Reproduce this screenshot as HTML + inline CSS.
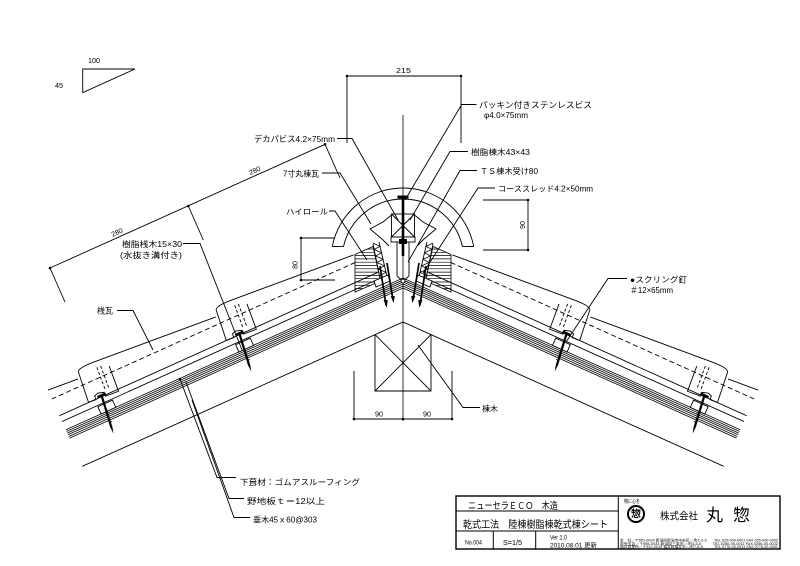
<!DOCTYPE html>
<html><head><meta charset="utf-8"><style>
html,body{margin:0;padding:0;background:#fff;}
svg{display:block;}
text{font-family:"Liberation Sans","Noto Sans CJK JP",sans-serif;fill:#000;}
</style></head><body>
<svg width="800" height="566" viewBox="0 0 800 566" xmlns="http://www.w3.org/2000/svg">
<defs>
 <clipPath id="clipL" clipPathUnits="userSpaceOnUse"><polygon points="403,0 403,566 123,557 -20.5,238 -20.5,0"/></clipPath>
 <clipPath id="hc" clipPathUnits="userSpaceOnUse"><polygon points="355,254.5 373,246.5 380.5,281 355,292"/></clipPath>
 <g id="course" fill="none" stroke="#000" stroke-width="0.9">
   <path d="M0,1 Q1,-3 18,-3 L148,-3"/>
   <path d="M0,1 L-1,33 L7,33 L7,29 L11,27.5 L17,29 L17,33 L31,33 L31,6"/>
   <path d="M19,3 V26 M23,3 V27" stroke-dasharray="3,2"/>
 </g>
 <g id="fix" stroke="#000">
   <rect x="-313" y="-48" width="16" height="8" fill="#fff" stroke-width="0.9"/>
   <line x1="-309.5" y1="-57" x2="-300.5" y2="-57" stroke-width="2"/>
   <line x1="-305" y1="-57" x2="-309" y2="-25" stroke-width="2.2"/>
   <polygon points="-310.3,-25 -307.7,-25 -309.8,-17" fill="#000" stroke="none"/>
   <path d="M-308,-36 l3,-1 M-308.5,-32 l3,-1 M-309,-28 l3,-1" stroke-width="0.7" fill="none"/>
 </g>
 <g id="half">
  <g clip-path="url(#clipL)" fill="none" stroke="#000" stroke-width="0.9">
   <g transform="translate(403,322) rotate(-24.23)">
     <line x1="-400" y1="0" x2="30" y2="0"/>
     <g stroke-width="0.8">
       <line x1="-400" y1="-31" x2="30" y2="-31"/>
       <line x1="-400" y1="-32.8" x2="30" y2="-32.8"/>
       <line x1="-400" y1="-34.7" x2="30" y2="-34.7"/>
       <line x1="-400" y1="-36.5" x2="30" y2="-36.5"/>
       <line x1="-400" y1="-38.3" x2="30" y2="-38.3"/>
       <line x1="-400" y1="-40.1" x2="30" y2="-40.1"/>
     </g>
     <line x1="-400" y1="-49.2" x2="-3" y2="-49.2"/>
     <line x1="-400" y1="-55.6" x2="-3" y2="-55.6"/>
     <line x1="-400" y1="-73.9" x2="-19" y2="-73.9" stroke-dasharray="5,3"/>
     <use href="#course" transform="translate(-467.6,-88.6) rotate(3.93)"/>
     <use href="#course" transform="translate(-316.5,-88.6) rotate(3.93)"/>
     <use href="#course" transform="translate(-165.4,-88.6) rotate(3.93)"/>
     <use href="#fix"/>
     <use href="#fix" transform="translate(151.1,0)"/>
   </g>
   <!-- ridge tile half -->
   <path d="M332.3,246.5 A72,72 0 0 1 403,188"/>
   <path d="M343.5,246.6 A61,61 0 0 1 403,199"/>
   <path d="M332.3,246.5 L343.5,246.6"/>
   <polyline points="391.5,215 383,222 370,229 382,239 389,246"/>
   <!-- hatched high-roll -->
   <polygon points="355,254.5 373,246.5 380.5,281 355,292" stroke-width="0.8"/>
   <g clip-path="url(#hc)" stroke-width="0.7">
     <path d="M350,249H390M350,252.3H390M350,255.6H390M350,258.9H390M350,262.2H390M350,265.5H390M350,268.8H390M350,272.1H390M350,275.4H390M350,278.7H390M350,282H390M350,285.3H390M350,288.6H390"/>
   </g>
   <path d="M373,244 L381,283 M379,242 L388,281" stroke-width="0.9"/>
   <polyline points="372.8,243 380,246.3 374.1,249.5 381.5,252.8 375.5,256 383,259.3 376.8,262.5 384.5,265.8 378.1,269 386,272.3 379.5,275.5 387.5,278.8 380.8,282" stroke-width="0.8"/>
   <!-- ridge screws -->
   <polygon points="374,281 388,275 390,281 376,287" fill="#fff"/>
   <line x1="380" y1="266" x2="386" y2="305" stroke-width="1.7"/>
   <line x1="387" y1="263" x2="393" y2="300" stroke-width="1.7"/>
   <path d="M384,300 l2.5,7 l1,-7 M391,296 l2.5,6 l1,-6" fill="#000" stroke-width="0.6"/>
  </g>
 </g>
</defs>

<rect width="800" height="566" fill="#fff"/>
<use href="#half"/>
<g transform="matrix(-1,0,0,1,806,0)"><use href="#half"/></g>

<g fill="none" stroke="#000" stroke-width="0.9">
  <!-- ridge beam 棟木 -->
  <path d="M375,334.6 V391 H431 V334.6"/>
  <path d="M375,334.6 L431,391 M431,334.6 L375,391"/>
  <!-- center line -->
  <line x1="403" y1="115" x2="403" y2="421" stroke-width="0.8"/>
  <!-- beam -->
  <rect x="391.5" y="214" width="23" height="23" fill="#fff"/>
  <path d="M391.5,214 L414.5,237 M414.5,214 L391.5,237"/>
  <!-- TS bracket -->
  <rect x="391" y="237" width="24" height="5" fill="#fff"/>
  <path d="M397,242 V276 M409,242 V276 M397,276 L403,281 L409,276"/>
  <!-- screw -->
  <line x1="403" y1="198" x2="403" y2="256" stroke-width="2.6"/>
  <rect x="397.5" y="195.5" width="11" height="3" fill="#000" stroke="none"/>
  <rect x="399" y="239" width="8" height="5" fill="#000" stroke="none"/>
  <circle cx="403" cy="281" r="2" fill="#fff"/>

  <!-- slope triangle -->
  <polygon points="82.7,69 135,69 82.7,92.7"/>

  <!-- 215 dim -->
  <path d="M347,76 H461 M347,76 V143 M461,76 V143"/>
  <!-- 80 dim -->
  <path d="M301,238 V280 M301,238 H335 M301,280 H335"/>
  <!-- 90 right dim -->
  <path d="M528,200 V250 M483,200 H528 M483,250 H528"/>
  <!-- bottom 90/90 dim -->
  <path d="M354,419 H452 M354,371 V419 M452,371 V419"/>
  <!-- 280 dims -->
  <path d="M50,268 L325,144.3 M50,268 L65,302 M188.3,206 L203.3,240 M325,144.3 L340,178"/>

  <!-- leaders -->
  <path d="M337,138.5 H352 L398,220"/>
  <path d="M322,173 H340 L371,224"/>
  <path d="M329,211 H335 L367,260"/>
  <path d="M183,243.5 H200 L242,350"/>
  <path d="M117,310.5 H133 L153,350"/>
  <path d="M180,379 L217,477.5 H236"/>
  <path d="M186,382 L229,498.5 H244"/>
  <path d="M192,400 L234,517.5 H250"/>
  <path d="M418,345 L463,407.5 H480"/>
  <path d="M405,200 L461.7,104.5 H476.5"/>
  <path d="M410,220 L450,151.5 H468"/>
  <path d="M408,262 L460,170.5 H477"/>
  <path d="M423,273 L478,188 H495"/>
  <path d="M566,342 L608,278.5 H627"/>
</g>
<g fill="#000">
  <circle cx="347" cy="76" r="1.3"/><circle cx="461" cy="76" r="1.3"/>
  <circle cx="301" cy="238" r="1.3"/><circle cx="301" cy="280" r="1.3"/>
  <circle cx="528" cy="200" r="1.3"/><circle cx="528" cy="250" r="1.3"/>
  <circle cx="354" cy="419" r="1.3"/><circle cx="403" cy="419" r="1.3"/><circle cx="452" cy="419" r="1.3"/>
  <circle cx="50" cy="268" r="1.3"/><circle cx="188.3" cy="206" r="1.3"/><circle cx="325" cy="144.3" r="1.3"/>
  <circle cx="180" cy="379" r="1.2"/>
</g>

<!-- labels -->
<g font-size="8">
  <text x="88" y="63" font-size="7" textLength="12" lengthAdjust="spacingAndGlyphs">100</text>
  <text x="55" y="88" font-size="7" textLength="8" lengthAdjust="spacingAndGlyphs">45</text>
  <text x="396" y="73" font-size="7.5" textLength="15" lengthAdjust="spacingAndGlyphs">215</text>
  <text x="254" y="142" font-size="8.5" textLength="81" lengthAdjust="spacingAndGlyphs">デカパビス4.2×75mm</text>
  <text x="283" y="176.5" textLength="36" lengthAdjust="spacingAndGlyphs">7寸丸棟瓦</text>
  <text x="286" y="214.5" textLength="42" lengthAdjust="spacingAndGlyphs">ハイロール</text>
  <text x="122" y="247" textLength="60" lengthAdjust="spacingAndGlyphs">樹脂桟木15×30</text>
  <text x="120" y="258" textLength="62" lengthAdjust="spacingAndGlyphs">(水抜き溝付き)</text>
  <text x="97" y="313.5" textLength="16" lengthAdjust="spacingAndGlyphs">桟瓦</text>
  <text x="240" y="485" textLength="120" lengthAdjust="spacingAndGlyphs">下葺材：ゴムアスルーフィング</text>
  <text x="247" y="504" textLength="78" lengthAdjust="spacingAndGlyphs">野地板ｔ＝12以上</text>
  <text x="253" y="522.5" textLength="64" lengthAdjust="spacingAndGlyphs">垂木45ｘ60@303</text>
  <text x="482" y="411.5" textLength="16" lengthAdjust="spacingAndGlyphs">棟木</text>
  <text x="479" y="108" font-size="8.5" textLength="113" lengthAdjust="spacingAndGlyphs">パッキン付きステンレスビス</text>
  <text x="484" y="118" textLength="44" lengthAdjust="spacingAndGlyphs">φ4.0×75mm</text>
  <text x="471" y="155" textLength="59" lengthAdjust="spacingAndGlyphs">樹脂棟木43×43</text>
  <text x="480" y="174" textLength="58" lengthAdjust="spacingAndGlyphs">ＴＳ棟木受け80</text>
  <text x="498" y="191.5" textLength="95" lengthAdjust="spacingAndGlyphs">コーススレッド4.2×50mm</text>
  <text x="630" y="282.5" textLength="57" lengthAdjust="spacingAndGlyphs">●スクリング釘</text>
  <text x="630" y="293" textLength="43" lengthAdjust="spacingAndGlyphs">＃12×65mm</text>
  <text x="375" y="416.5" font-size="7" textLength="8" lengthAdjust="spacingAndGlyphs">90</text>
  <text x="423" y="416.5" font-size="7" textLength="8" lengthAdjust="spacingAndGlyphs">90</text>
  <text transform="translate(297.5,265) rotate(-90)" text-anchor="middle" font-size="7">80</text>
  <text transform="translate(525,225) rotate(-90)" text-anchor="middle" font-size="7">90</text>
  <text transform="translate(118,234.5) rotate(-24.23)" text-anchor="middle" font-size="7">280</text>
  <text transform="translate(255.7,172.7) rotate(-24.23)" text-anchor="middle" font-size="7">280</text>
</g>

<!-- title block -->
<g fill="none" stroke="#000" stroke-width="1">
  <rect x="456" y="496" width="324" height="53" stroke-width="1.4"/>
  <line x1="618.3" y1="496" x2="618.3" y2="549"/>
  <line x1="456" y1="511" x2="618.3" y2="511"/>
  <line x1="456" y1="531" x2="618.3" y2="531"/>
  <line x1="493.3" y1="531" x2="493.3" y2="549"/>
  <line x1="535.7" y1="531" x2="535.7" y2="549"/>
  <circle cx="636" cy="514" r="8" stroke-width="2"/>
</g>
<g>
  <text x="468" y="509" font-size="9.5" textLength="90" lengthAdjust="spacingAndGlyphs">ニューセラＥＣＯ　木造</text>
  <text x="463" y="528" font-size="10" textLength="145" lengthAdjust="spacingAndGlyphs">乾式工法　陸棟樹脂棟乾式棟シート</text>
  <text x="465" y="544.5" font-size="6" textLength="17" lengthAdjust="spacingAndGlyphs">No.004</text>
  <text x="503" y="545" font-size="7" textLength="19" lengthAdjust="spacingAndGlyphs">S=1/5</text>
  <text x="550" y="539.5" font-size="6" textLength="17" lengthAdjust="spacingAndGlyphs">Ver 1.0</text>
  <text x="550" y="547.5" font-size="6" textLength="47" lengthAdjust="spacingAndGlyphs">2010.08.01 更新</text>
  <text x="624" y="503" font-size="5" textLength="16" lengthAdjust="spacingAndGlyphs">物に心を</text>
  <text x="636" y="517.5" font-size="10" font-weight="bold" text-anchor="middle">惣</text>
  <text x="660" y="519.5" font-size="10" textLength="38" lengthAdjust="spacingAndGlyphs">株式会社</text>
  <text x="706" y="521" font-size="17">丸</text>
  <text x="733" y="521" font-size="17">惣</text>
  <text x="620" y="541.5" font-size="3.2" textLength="158" lengthAdjust="spacingAndGlyphs">本　社／〒951-0024 新潟県新潟市中央区○○町1-2-3　　TEL.025-000-0001 FAX.025-000-0002</text>
  <text x="620" y="544.8" font-size="3.2" textLength="158" lengthAdjust="spacingAndGlyphs">県央支店／〒955-0033 新潟県三条市○○町4-5-6　　　TEL.0256-00-0011 FAX.0256-00-0022</text>
  <text x="620" y="548" font-size="3.2" textLength="158" lengthAdjust="spacingAndGlyphs">福井営業所／〒910-0015 福井県福井市○○町7-8-9　　　TEL.0776-00-0031 FAX.0776-00-0041</text>
</g>
</svg>
</body></html>
